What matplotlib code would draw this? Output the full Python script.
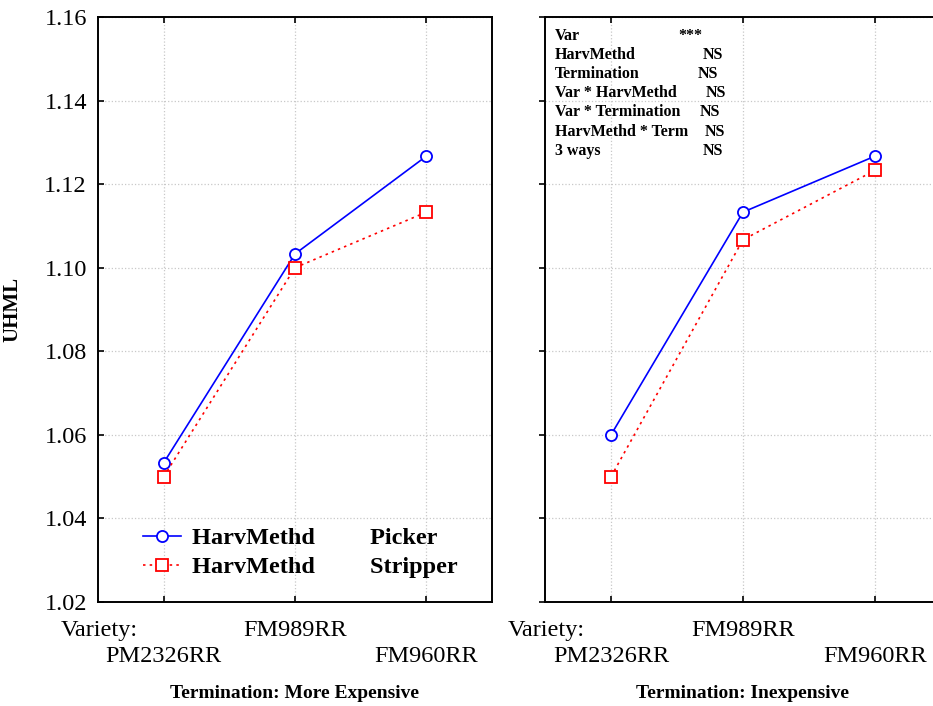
import matplotlib
matplotlib.use("Agg")
import matplotlib.pyplot as plt
from matplotlib.transforms import blended_transform_factory

plt.rcParams['font.family'] = ['Liberation Serif', 'DejaVu Serif']

varieties = ["PM2326RR", "FM989RR", "FM960RR"]
panel_titles = ["Termination: More Expensive", "Termination: Inexpensive"]

picker_expensive = [1.0533, 1.1033, 1.1267]
stripper_expensive = [1.0500, 1.1000, 1.1133]
picker_inexpensive = [1.0600, 1.1133, 1.1267]
stripper_inexpensive = [1.0500, 1.1067, 1.1233]

yticks = [1.02, 1.04, 1.06, 1.08, 1.10, 1.12, 1.14, 1.16]

effects = ["Var", "HarvMethd", "Termination", "Var * HarvMethd",
           "Var * Termination", "HarvMethd * Term", "3 ways"]
significance = ["***", "NS", "NS", "NS", "NS", "NS", "NS"]
sig_x = [0.336, 0.399, 0.386, 0.407, 0.391, 0.404, 0.399]

fig = plt.figure(figsize=(9.33, 7.06), dpi=100)
ax1 = fig.add_axes([98/933, 104/706, 394/933, 585/706])
ax2 = fig.add_axes([545/933, 104/706, 396/933, 585/706])

x = list(range(len(varieties)))
series = [(picker_expensive, stripper_expensive), (picker_inexpensive, stripper_inexpensive)]

for i, (ax, (pk, st)) in enumerate(zip([ax1, ax2], series)):
    ax.plot(x, pk, color='#0000ff', lw=1.2, marker='o', ms=8, mfc='white',
            mec='#0000ff', mew=1.3, label="HarvMethd         Picker", zorder=3)
    ax.plot(x, st, color='#ff0000', lw=1.2, ls=(0, (1.5, 2.5)), marker='s', ms=8,
            mfc='white', mec='#ff0000', mew=1.3, label="HarvMethd         Stripper", zorder=3)
    ax.set_xlim(-0.5, 2.5)
    ax.set_ylim(1.02, 1.16)
    ax.set_yticks(yticks)
    # upper row of variety labels (major ticks), lower row (minor ticks)
    ax.xaxis.remove_overlapping_locs = False
    ax.set_xticks(x)
    ax.set_xticklabels(["", varieties[1], ""], fontsize=17.5)
    ax.set_xticks([x[0], x[2]], minor=True)
    ax.set_xticklabels([varieties[0], varieties[2]], minor=True, fontsize=17.5)
    ax.grid(True, which='major', color='#c8c8c8', ls=':', lw=0.9)
    for s in ax.spines.values():
        s.set_linewidth(1.4)
        s.set_color('black')
    ax.tick_params(axis='x', which='major', direction='in', top=True, length=4, width=1.2, pad=13)
    ax.tick_params(axis='x', which='minor', direction='in', top=False, length=0, pad=32)
    ax.tick_params(axis='y', direction='in' if i == 0 else 'out', length=4, width=1.2,
                   labelsize=17.5, pad=8)
    trans = blended_transform_factory(ax.transData, ax.transAxes)
    ax.text(-0.2, -0.0479, "Variety:", transform=trans, ha='right', va='center', fontsize=17.5)
    ax.text(0.5, -0.1556, panel_titles[i], transform=ax.transAxes, ha='center', va='center',
            fontsize=14, fontweight='bold')

ax2.tick_params(axis='y', labelleft=False)
ax1.set_ylabel("UHML", fontsize=15, fontweight='bold')
ax1.yaxis.set_label_coords(-0.193, 0.5)

leg = ax1.legend(loc='upper left', bbox_to_anchor=(0.114, 0.128), frameon=False,
                 prop={'size': 17.5, 'weight': 'bold'}, handlelength=1.55,
                 handletextpad=0.45, labelspacing=0.3, borderpad=0, borderaxespad=0)

y0 = 0.968
dy = 0.0328
for k, (eff, sig) in enumerate(zip(effects, significance)):
    ax2.text(0.0253, y0 - k * dy, eff, transform=ax2.transAxes, ha='left', va='center',
             fontsize=11.5, fontweight='bold')
    ax2.text(sig_x[k], y0 - k * dy, sig, transform=ax2.transAxes, ha='left', va='center',
             fontsize=11.5, fontweight='bold')

fig.savefig("out.png", dpi=100)
